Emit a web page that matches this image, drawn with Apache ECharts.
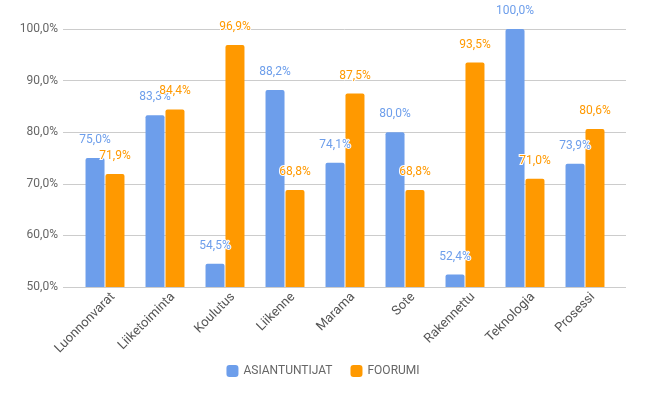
<!DOCTYPE html>
<html>
<head>
<meta charset="utf-8">
<script src="https://cdn.jsdelivr.net/npm/echarts@6/dist/echarts.min.js"></script>
<style>
  html, body { margin: 0; padding: 0; background: #fff; }
  #chart { width: 646px; height: 399px; }
</style>
</head>
<body>
<div id="chart"></div>
<script>
  const categories = ['Luonnonvarat', 'Liiketoiminta', 'Koulutus', 'Liikenne', 'Marama', 'Sote', 'Rakennettu', 'Teknologia', 'Prosessi'];
  const asiantuntijat = [75.0, 83.3, 54.5, 88.2, 74.1, 80.0, 52.4, 100.0, 73.9];
  const foorumi = [71.9, 84.4, 96.9, 68.8, 87.5, 68.8, 93.5, 71.0, 80.6];
  const yTicks = [50, 60, 70, 80, 90, 100];

  const blue = '#6d9eeb';
  const orange = '#ff9900';
  const font = 'Roboto, sans-serif';

  function pct(v) {
    return v.toFixed(1).replace('.', ',') + '%';
  }

  function barSeries(name, data, color) {
    return {
      name: name,
      type: 'bar',
      xAxisIndex: 1,
      yAxisIndex: 1,
      data: data,
      barWidth: 19,
      barGap: '5%',
      itemStyle: { color: color, borderRadius: [2, 2, 0, 0] },
      label: {
        show: true,
        position: 'top',
        distance: 12,
        color: color,
        fontSize: 12,
        fontFamily: font,
        textBorderColor: '#fff',
        textBorderWidth: 2,
        formatter: (p) => pct(p.value)
      }
    };
  }

  const valueAxis = (idx) => ({
    type: 'value',
    gridIndex: idx,
    min: yTicks[0],
    max: yTicks[yTicks.length - 1],
    interval: 10,
    show: false,
    splitLine: { show: false }
  });

  const chart = echarts.init(document.getElementById('chart'));
  chart.setOption({
    backgroundColor: '#fff',
    animation: false,
    grid: [
      // gridlines + y labels, a bit wider than the bars
      { left: 63, right: 20, top: 29, bottom: 112 },
      // bars
      { left: 75, right: 31, top: 29, bottom: 112 },
      // category labels, nudged right like the original
      { left: 83, right: 23, top: 29, bottom: 112 }
    ],
    legend: {
      bottom: 17,
      left: 'center',
      icon: 'roundRect',
      itemWidth: 12,
      itemHeight: 12,
      itemGap: 18,
      textStyle: { color: '#666', fontSize: 12, fontFamily: font },
      data: ['ASIANTUNTIJAT', 'FOORUMI']
    },
    xAxis: [
      { type: 'category', gridIndex: 0, data: categories, show: false },
      {
        type: 'category',
        gridIndex: 1,
        data: categories,
        axisTick: { show: false },
        axisLine: { show: false },
        axisLabel: { show: false }
      },
      {
        type: 'category',
        gridIndex: 2,
        data: categories,
        axisTick: { show: false },
        axisLine: { show: false },
        axisLabel: {
          rotate: 45,
          margin: 8,
          color: '#555',
          fontSize: 13,
          fontFamily: font,
          interval: 0
        }
      }
    ],
    yAxis: [
      {
        type: 'value',
        gridIndex: 0,
        min: yTicks[0],
        max: yTicks[yTicks.length - 1],
        interval: 10,
        axisLine: { show: false },
        axisTick: { show: false },
        axisLabel: {
          margin: 5,
          color: '#666',
          fontSize: 12,
          fontFamily: font,
          formatter: (v) => pct(v)
        },
        splitLine: { lineStyle: { color: '#ccc', width: 1 } }
      },
      valueAxis(1),
      valueAxis(2)
    ],
    series: [
      barSeries('ASIANTUNTIJAT', asiantuntijat, blue),
      barSeries('FOORUMI', foorumi, orange)
    ]
  });
</script>
</body>
</html>
